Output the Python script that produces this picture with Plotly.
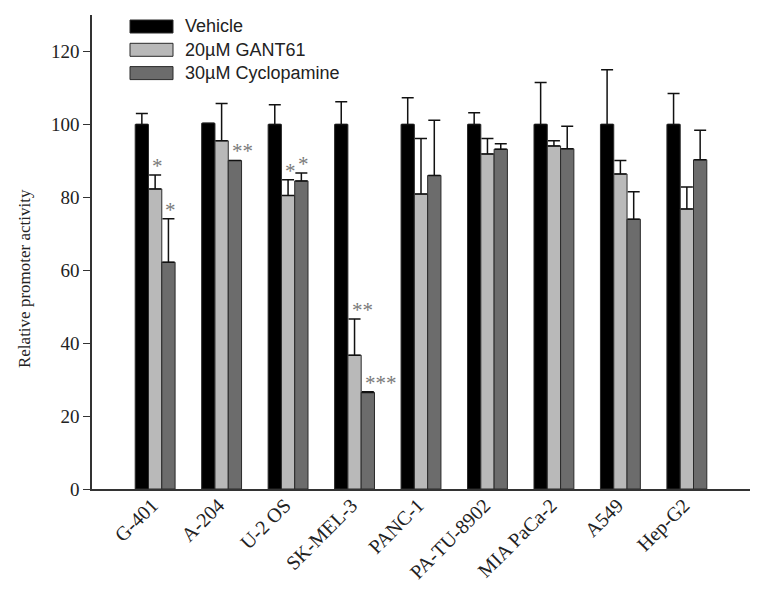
import plotly.graph_objects as go

cell_lines = ["G-401", "A-204", "U-2 OS", "SK-MEL-3", "PANC-1", "PA-TU-8902",
              "MIA PaCa-2", "A549", "Hep-G2"]

vehicle = [100, 100.3, 100, 100, 100, 100, 100, 100, 100]
vehicle_err = [3.0, 0, 5.4, 6.2, 7.3, 3.2, 11.5, 15.0, 8.5]

gant61 = [82.3, 95.5, 80.5, 36.7, 80.9, 91.9, 94.1, 86.4, 76.8]
gant61_err = [3.8, 10.2, 4.3, 9.9, 15.2, 4.2, 1.4, 3.7, 6.0]

cyclo = [62.2, 90.1, 84.5, 26.5, 86.0, 93.2, 93.3, 74.0, 90.3]
cyclo_err = [11.9, 0, 2.2, 0.2, 15.1, 1.5, 6.2, 7.5, 8.1]

legend_names = ["Vehicle", "20\u00b5M GANT61", "30\u00b5M Cyclopamine"]

# significance marks: (series index 1=GANT61, 2=Cyclopamine, category index, text)
sig_marks = [(1, 0, "*"), (2, 0, "*"), (2, 1, "**"), (1, 2, "*"), (2, 2, "*"),
             (1, 3, "**"), (2, 3, "***")]

y_ticks = [0, 20, 40, 60, 80, 100, 120]

colors = ["#000000", "#b9b9b9", "#6c6c6c"]
series = [vehicle, gant61, cyclo]
errors = [vehicle_err, gant61_err, cyclo_err]

# page body has an 8px margin, so the figure is sized to fit inside the window
W, H = 748, 577
ML, MR, MT, MB = 84, 6, 7, 96
PW, PH = W - ML - MR, H - MT - MB

fig = go.Figure()
for name, vals, errs, col in zip(legend_names, series, errors, colors):
    fig.add_trace(go.Bar(
        x=list(range(len(cell_lines))), y=vals, name=name, showlegend=False,
        marker=dict(color=col, line=dict(color="#2a2a2a", width=1)),
        error_y=dict(type="data", array=errs, arrayminus=[0] * len(errs),
                     symmetric=False, color="#111111", thickness=1.5, width=6),
    ))

bar_w = 0.2
for s, ci, txt in sig_marks:
    top = series[s][ci] + errors[s][ci]
    xpos = ci + (s - 1) * bar_w
    fig.add_annotation(x=xpos, y=top, text=txt, showarrow=False,
                       xanchor="left", yanchor="bottom", xref="x", yref="y",
                       xshift=-5, yshift=-5,
                       font=dict(family="Liberation Serif", size=21, color="#7a7a7a"))

# legend drawn as boxes with text (wide swatches like the original)
sw_x0, sw_w, sw_h, row_h, row0 = 38, 43, 13, 23.3, 26.5 - 8 - MT
for i, (name, col) in enumerate(zip(legend_names, colors)):
    cy = row0 + i * row_h
    fig.add_shape(type="rect", xref="paper", yref="paper",
                  x0=sw_x0 / PW, x1=(sw_x0 + sw_w) / PW,
                  y0=1 - (cy - sw_h / 2) / PH, y1=1 - (cy + sw_h / 2) / PH,
                  fillcolor=col, line=dict(color="#2a2a2a", width=1))
    fig.add_annotation(text=name, xref="paper", yref="paper",
                       x=(sw_x0 + sw_w + 10) / PW, y=1 - cy / PH,
                       xanchor="left", yanchor="middle", showarrow=False,
                       font=dict(family="Liberation Sans", size=18, color="#222222"))

fig.add_annotation(text="Relative promoter activity", textangle=-90,
                   xref="paper", yref="paper", x=-68 / PW, y=0.443,
                   xanchor="center", yanchor="middle", showarrow=False,
                   font=dict(family="Liberation Serif", size=17, color="#222222"))

fig.update_layout(
    width=W, height=H,
    margin=dict(l=ML, r=MR, t=MT, b=MB, autoexpand=False),
    paper_bgcolor="white", plot_bgcolor="white",
    barmode="group", bargap=0.4, bargroupgap=0,
    showlegend=False,
    xaxis=dict(range=[-0.95, 8.95], tickmode="array",
               tickvals=list(range(len(cell_lines))), ticktext=cell_lines,
               tickangle=-45, showline=True, linecolor="#333333", linewidth=1.5,
               ticks="", showgrid=False, zeroline=False,
               ticklabelstandoff=-5, ticklabelshift=-3,
               tickfont=dict(family="Liberation Serif", size=20, color="#222222")),
    yaxis=dict(range=[0, 130], tickvals=y_ticks, showline=True,
               linecolor="#333333", linewidth=1.5, ticks="outside", ticklen=7,
               tickcolor="#333333", tickwidth=1.3, showgrid=False, zeroline=False,
               tickfont=dict(family="Liberation Serif", size=19, color="#222222")),
)

fig.write_html("out.html")
